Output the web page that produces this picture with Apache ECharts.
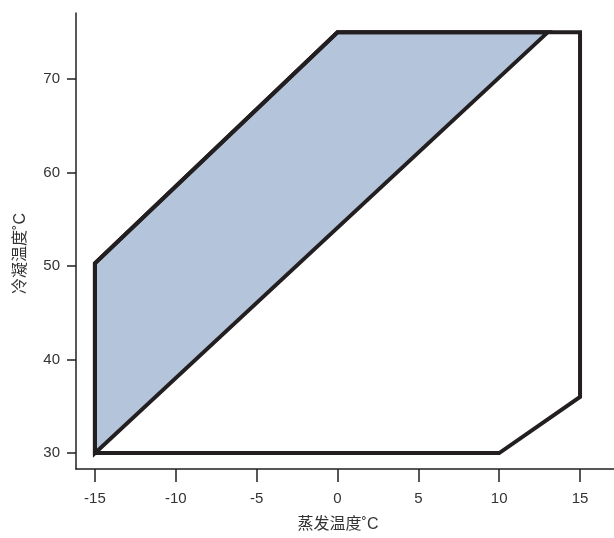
<!DOCTYPE html>
<html>
<head>
<meta charset="utf-8">
<script src="https://cdn.jsdelivr.net/npm/echarts@6/dist/echarts.min.js"></script>
<style>html,body{margin:0;padding:0;background:#fff}#c{width:614px;height:538px}</style>
</head>
<body>
<div id="c"></div>
<script>
// Operating envelope outline (evaporating temp, condensing temp)
var envelopeX = [-15, -15, 0, 15, 15, 10, -15];
var envelopeY = [30, 50.3, 75, 75, 36, 30, 30];
// Shaded region
var shadedX = [-15, -15, 0, 13];
var shadedY = [30, 50.3, 75, 75];
// Tick labels
var xTicks = [-15, -10, -5, 0, 5, 10, 15];
var yTicks = [30, 40, 50, 60, 70];
var xName = '蒸发温度˚C';
var yName = '冷凝温度˚C';

var envelope = envelopeX.map(function (x, i) { return [x, envelopeY[i]]; });
var shaded = shadedX.map(function (x, i) { return [x, shadedY[i]]; });

var chart = echarts.init(document.getElementById('c'));
var axisCol = '#231f20';
var labelCol = '#333';
chart.setOption({
  animation: false,
  grid: { left: 76, right: 0, top: 13, bottom: 66 },
  xAxis: {
    type: 'value', min: -16.17, max: 17.1,
    name: xName, nameLocation: 'middle', nameGap: 48,
    nameTextStyle: { fontSize: 16, color: labelCol, fontFamily: 'Liberation Sans, Noto Sans CJK SC, sans-serif', padding: [0, 14, 0, 0] },
    axisLine: { show: true, onZero: false, lineStyle: { color: axisCol, width: 1.5 } },
    axisTick: { show: true, length: 13, customValues: xTicks, lineStyle: { color: axisCol, width: 1.5 } },
    axisLabel: { customValues: xTicks, margin: 22, fontSize: 15, color: labelCol, fontFamily: 'Liberation Sans, Arial, sans-serif' },
    splitLine: { show: false }
  },
  yAxis: {
    type: 'value', min: 28.3, max: 77.07,
    name: yName, nameLocation: 'middle', nameGap: 47,
    nameTextStyle: { fontSize: 16, color: labelCol, fontFamily: 'Liberation Sans, Noto Sans CJK SC, sans-serif', padding: [0, 25, 0, 0] },
    axisLine: { show: true, onZero: false, lineStyle: { color: axisCol, width: 1.5 } },
    axisTick: { show: true, length: 9, customValues: yTicks, lineStyle: { color: axisCol, width: 1.5 } },
    axisLabel: { customValues: yTicks, margin: 16, fontSize: 15, color: labelCol, fontFamily: 'Liberation Sans, Arial, sans-serif' },
    splitLine: { show: false }
  },
  series: [
    {
      type: 'custom',
      data: shaded,
      renderItem: function (params, api) {
        if (params.dataIndex !== 0) return null;
        var pts = shaded.map(function (p) { return api.coord(p); });
        return {
          type: 'polygon',
          shape: { points: pts },
          style: { fill: '#b4c4da', stroke: axisCol, lineWidth: 4, lineJoin: 'miter' }
        };
      },
      z: 2
    },
    {
      type: 'line',
      data: envelope,
      symbol: 'none',
      lineStyle: { color: axisCol, width: 4, join: 'miter', cap: 'square' },
      z: 3
    }
  ]
});
</script>
</body>
</html>
